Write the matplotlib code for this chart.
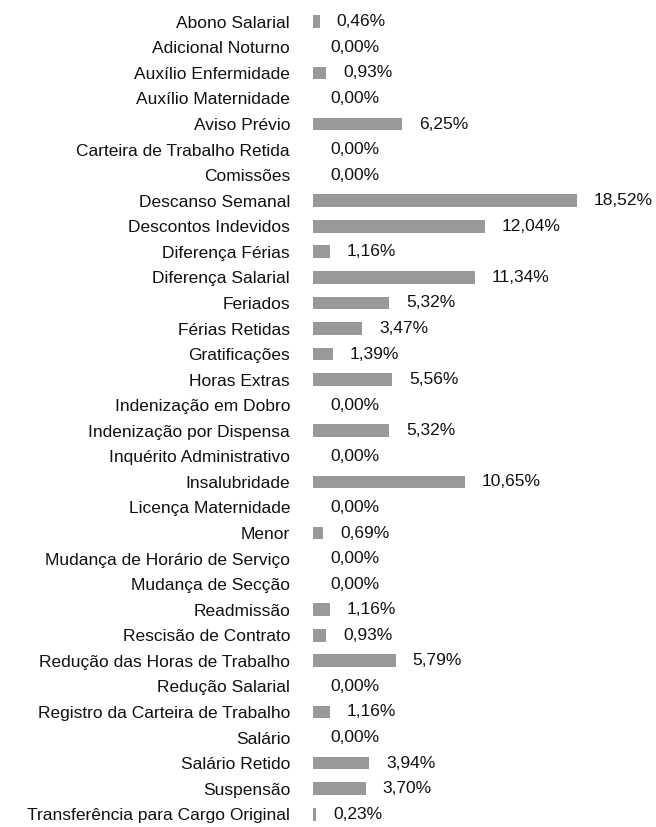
import matplotlib
matplotlib.use("Agg")
import matplotlib.pyplot as plt

# categorias e percentuais
categorias = [
    "Abono Salarial", "Adicional Noturno", "Auxílio Enfermidade", "Auxílio Maternidade",
    "Aviso Prévio", "Carteira de Trabalho Retida", "Comissões", "Descanso Semanal",
    "Descontos Indevidos", "Diferença Férias", "Diferença Salarial", "Feriados",
    "Férias Retidas", "Gratificações", "Horas Extras", "Indenização em Dobro",
    "Indenização por Dispensa", "Inquérito Administrativo", "Insalubridade",
    "Licença Maternidade", "Menor", "Mudança de Horário de Serviço", "Mudança de Secção",
    "Readmissão", "Rescisão de Contrato", "Redução das Horas de Trabalho",
    "Redução Salarial", "Registro da Carteira de Trabalho", "Salário", "Salário Retido",
    "Suspensão", "Transferência para Cargo Original",
]
valores = [0.46, 0.00, 0.93, 0.00, 6.25, 0.00, 0.00, 18.52, 12.04, 1.16, 11.34, 5.32,
           3.47, 1.39, 5.56, 0.00, 5.32, 0.00, 10.65, 0.00, 0.69, 0.00, 0.00, 1.16,
           0.93, 5.79, 0.00, 1.16, 0.00, 3.94, 3.70, 0.23]

plt.rcParams['font.family'] = ['Liberation Sans', 'DejaVu Sans']
fs = 12.5

fig = plt.figure(figsize=(6.56, 8.27), dpi=100)
ax = fig.add_axes([313/656, 0, 285/656, 818/827])

y = list(range(len(categorias)))
ax.barh(y, valores, height=0.5, color="#999999", clip_on=False)
for i, v in enumerate(valores):
    ax.text(v + 1.2, i, ("%.2f%%" % v).replace(".", ","), va="center", ha="left",
            fontsize=fs, color="#111111", clip_on=False)

ax.set_xlim(0, 20)
ax.set_ylim(len(categorias) - 0.5, -0.5)
ax.set_yticks(y)
ax.set_yticklabels(categorias, fontsize=fs, color="#111111")
ax.tick_params(axis="y", length=0, pad=16.5)
ax.set_xticks([])
for s in ax.spines.values():
    s.set_visible(False)

fig.savefig("out.png", dpi=100)
